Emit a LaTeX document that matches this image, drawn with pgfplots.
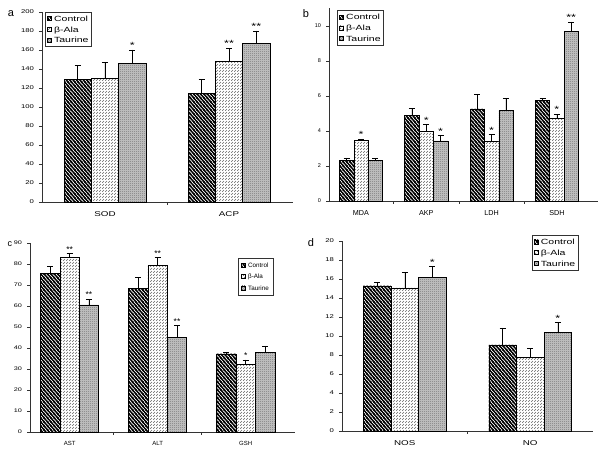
\documentclass[border=0pt]{standalone}
\usepackage{pgfplots}
\pgfplotsset{compat=1.18}
\usepackage{pgfplotstable}
\usepackage{fontspec}
\setmainfont{Liberation Sans}
\newfontfamily\widefont[FakeStretch=1.4]{Liberation Sans}
\usetikzlibrary{patterns}

% patterns (form only, drawn in pattern color)
\pgfdeclarepatternformonly{ctrlpat}{\pgfqpoint{-1pt}{-1pt}}{\pgfqpoint{4.4pt}{5pt}}{\pgfqpoint{3.4pt}{4pt}}{%
  \pgfsetlinewidth{1.4pt}%
  \pgfpathmoveto{\pgfqpoint{-0.2pt}{4.24pt}}\pgfpathlineto{\pgfqpoint{3.6pt}{-0.24pt}}%
  \pgfpathmoveto{\pgfqpoint{-1pt}{1.18pt}}\pgfpathlineto{\pgfqpoint{0.2pt}{-0.24pt}}%
  \pgfpathmoveto{\pgfqpoint{3.2pt}{4.24pt}}\pgfpathlineto{\pgfqpoint{4.4pt}{2.82pt}}%
  \pgfusepath{stroke}}
\pgfdeclarepatternformonly{alapat}{\pgfqpoint{0pt}{0pt}}{\pgfqpoint{3pt}{3pt}}{\pgfqpoint{3pt}{3pt}}{%
  \pgfsetlinewidth{0.7pt}%
  \pgfpathmoveto{\pgfqpoint{0.15pt}{0.15pt}}\pgfpathlineto{\pgfqpoint{2.5pt}{2.5pt}}%
  \pgfusepath{stroke}}
\pgfdeclarepatternformonly{taupat}{\pgfqpoint{0pt}{0pt}}{\pgfqpoint{2pt}{2pt}}{\pgfqpoint{2pt}{2pt}}{%
  \pgfpathrectangle{\pgfqpoint{0pt}{0pt}}{\pgfqpoint{1pt}{1pt}}%
  \pgfpathrectangle{\pgfqpoint{1pt}{1pt}}{\pgfqpoint{1pt}{1pt}}\pgfusepath{fill}}

\pgfplotsset{
  panel/.style={
    scale only axis,
    anchor=south west,
    axis x line=bottom, axis y line=left,
    axis line style={-, black!80, line width=0.5pt},
    tick style={black!80, line width=0.5pt},
    tick align=outside,
    major tick length=3pt, minor tick length=3pt,
    major x tick style={draw=none},
    ymin=0,
    xticklabel style={font=\widefont\fontsize{7}{8}\selectfont, yshift=-3pt},
    yticklabel style={font=\widefont\fontsize{5.5}{6}\selectfont, xshift=-1.5pt},
    /pgf/number format/assume math mode=true,
    legend cell align=left,
    legend style={draw=black!80, line width=0.4pt, font=\widefont\fontsize{7.5}{8}\selectfont,
      inner xsep=2pt, inner ysep=3pt, row sep=3.7pt, anchor=north west,
      nodes={text height=5.4pt, text depth=0pt, inner ysep=0.8pt, inner xsep=1pt},
      /tikz/every odd column/.append style={column sep=1.5pt}},
    legend image code/.code={\draw[##1, line width=0.4pt] (0pt,-2pt) rectangle (4pt,2pt);},
    clip=false,
  },
  bars/.style={ybar, bar width=0.22, bar shift=0, draw=black, line width=0.5pt,
    error bars/y dir=plus, error bars/y explicit,
    error bars/error bar style={black, line width=0.5pt},
    error bars/error mark options={rotate=90, black, mark size=3pt, line width=0.5pt}},
  ctrl/.style={bars, pattern=ctrlpat, pattern color=black},
  ala/.style={bars, pattern=alapat, pattern color=black!60},
  tau/.style={bars, preaction={fill=black!22}, pattern=taupat, pattern color=black!55},
  stars/.style={only marks, mark=*, mark size=0pt, forget plot,
    scatter/use mapped color={draw opacity=0, fill opacity=0},
    nodes near coords, point meta=explicit symbolic,
    nodes near coords style={font=\widefont\fontsize{9}{9}\selectfont, anchor=south, inner sep=1pt, text opacity=1}},
}

\pgfplotstableread{
x c ce b be t te
0 129 15 130.5 16.5 146 14
1 114 15 148 14 167 13
}\dataA
\pgfplotstableread{
x y s
0.22 160 *
1 162 **
1.22 180 **
}\starA

\pgfplotstableread{
x c ce b be t te
0 2.30 0.16 3.45 0.09 2.34 0.10
1 4.88 0.43 3.98 0.40 3.43 0.30
2 5.26 0.85 3.41 0.40 5.18 0.67
3 5.75 0.12 4.74 0.23 9.70 0.53
}\dataB
\pgfplotstableread{
x y s
0 3.54 *
1 4.38 *
1.22 3.73 *
2 3.81 *
3 4.97 *
3.22 10.23 **
}\starB

\pgfplotstableread{
x c ce b be t te
0 75.5 3.5 83.0 2.0 60.5 2.8
1 68.5 5.0 79.5 3.7 45.2 5.4
2 37.2 1.0 32.2 2.2 37.8 3.2
}\dataC
\pgfplotstableread{
x y s
0 85.0 **
0.22 63.3 **
1 83.2 **
1.22 50.6 **
2 34.4 *
}\starC

\pgfplotstableread{
x c ce b be t te
0 15.28 0.35 15.07 1.6 16.15 1.15
1 9.06 1.8 7.73 1.0 10.35 1.05
}\dataD
\pgfplotstableread{
x y s
0.22 17.31 *
1.22 11.40 *
}\starD

\newcommand\threebars[1]{%
\addplot[ctrl] table[x expr=\thisrow{x}-0.22, y=c, y error=ce] {#1};
\addplot[ala] table[x=x, y=b, y error=be] {#1};
\addplot[tau] table[x expr=\thisrow{x}+0.22, y=t, y error=te] {#1};
}

\begin{document}
\begin{tikzpicture}
\useasboundingbox (0,0) rectangle (600pt,450pt);

% panel a
\begin{axis}[panel, at={(42pt,248pt)}, width=251pt, height=190pt,
  xmin=-0.508, xmax=1.516, ymax=200, ytick={0,20,...,200},
  xtick={0,1}, xticklabels={SOD,ACP}, minor xtick={0.5},
  legend style={at={(0.012,1.0)}}]
\threebars{\dataA}
\addplot[stars] table[x=x, y=y, meta=s] {\starA};
\legend{Control, β-Ala, Taurine}
\end{axis}

% panel b
\begin{axis}[panel, at={(329pt,249pt)}, width=269pt, height=192.5pt,
  xmin=-0.49, xmax=3.63, ymax=11, ytick={0,2,...,10},
  xticklabel style={font=\fontsize{7.2}{8}\selectfont},
  yticklabel style={font=\fontsize{5.5}{6}\selectfont},
  xtick={0,1,2,3}, xticklabels={MDA,AKP,LDH,SDH}, minor xtick={0.5,1.5,2.5},
  legend style={at={(0.03,0.99)}}]
\threebars{\dataB}
\addplot[stars] table[x=x, y=y, meta=s] {\starB};
\legend{Control, β-Ala, Taurine}
\end{axis}

% panel c
\begin{axis}[panel, at={(30pt,18pt)}, width=265pt, height=189pt,
  xmin=-0.45, xmax=2.56, ymax=90, ytick={0,10,...,90},
  yticklabel style={font=\widefont\fontsize{5.2}{6}\selectfont},
  xticklabel style={font=\fontsize{6}{7}\selectfont},
  xtick={0,1,2}, xticklabels={AST,ALT,GSH}, minor xtick={0.5,1.5},
  legend style={at={(0.785,0.92)}, font=\fontsize{6.3}{7}\selectfont, inner xsep=3pt, inner ysep=4pt, row sep=5pt,
    nodes={text height=4.6pt}}]
\threebars{\dataC}
\addplot[stars, nodes near coords style={font=\fontsize{8.5}{8}\selectfont}] table[x=x, y=y, meta=s] {\starC};
\legend{Control, β-Ala, Taurine}
\end{axis}

% panel d
\begin{axis}[panel, at={(342pt,19pt)}, width=251pt, height=190pt,
  xmin=-0.5, xmax=1.5, ymax=20, ytick={0,2,...,20},
  xtick={0,1}, xticklabels={NOS,NO}, minor xtick={0.5},
  legend style={at={(0.756,1.03)}}]
\threebars{\dataD}
\addplot[stars] table[x=x, y=y, meta=s] {\starD};
\legend{Control, β-Ala, Taurine}
\end{axis}

\node[font=\fontsize{11}{11}\selectfont] at (11pt,436pt) {a};
\node[font=\fontsize{11}{11}\selectfont] at (306pt,436pt) {b};
\node[font=\fontsize{9}{9}\selectfont] at (10pt,206pt) {c};
\node[font=\fontsize{11}{11}\selectfont] at (311pt,207pt) {d};
\end{tikzpicture}
\end{document}
